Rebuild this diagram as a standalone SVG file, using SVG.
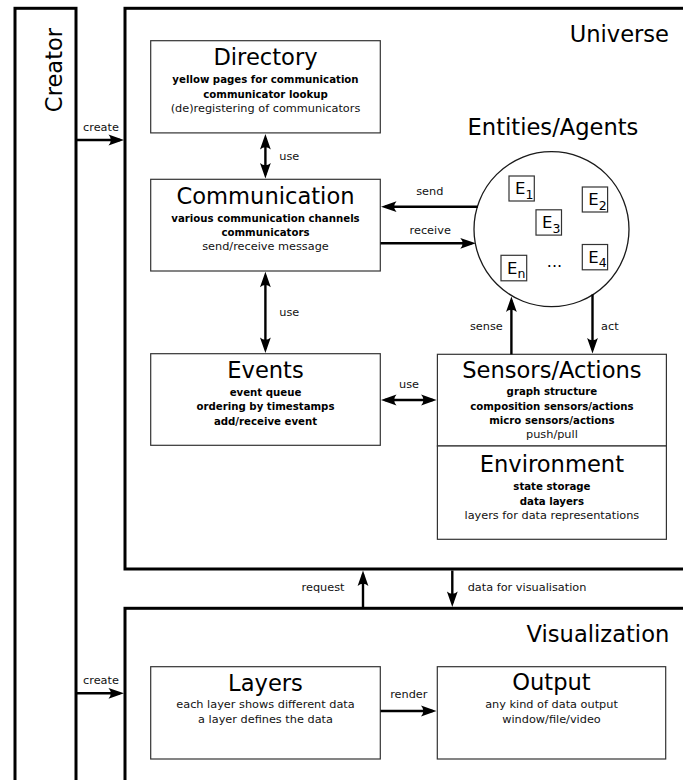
<svg xmlns="http://www.w3.org/2000/svg" width="683" height="780" viewBox="0 0 683 780">
  <defs>
    <style>
      text { font-family: "DejaVu Sans", "Liberation Sans", sans-serif; fill: #000; }
      .title { font-size: 22.6px; text-anchor: middle; }
      .big { font-size: 22.6px; }
      .b { font-size: 10.2px; font-weight: bold; text-anchor: middle; }
      .n { font-size: 11.3px; text-anchor: middle; fill: #111; }
      .lbl { font-size: 11.3px; fill: #111; }
      .outer { fill: #fff; stroke: #000; stroke-width: 3; }
      .box { fill: #fff; stroke: #333; stroke-width: 1.2; }
      .ent { fill: #fff; stroke: #333; stroke-width: 1.2; }
      .e { font-size: 16.5px; }
      .sub { font-size: 12.5px; }
      .conn line { stroke: #000; stroke-width: 2.4; fill: none; }
      .one { marker-end: url(#head); }
      .two { marker-start: url(#head); marker-end: url(#head); }
    </style>
    <marker id="head" markerUnits="userSpaceOnUse" orient="auto-start-reverse" markerWidth="20" markerHeight="20" refX="0" refY="0" overflow="visible">
      <path d="M4,0 L-11.5,-5.4 Q-6.8,0 -11.5,5.4 Z" fill="#000"/>
    </marker>
  </defs>

  <rect width="683" height="780" fill="#fff"/>

  <!-- Creator column -->
  <g id="creator">
    <rect class="outer" x="15" y="8.3" width="61" height="900"/>
    <text class="big" transform="translate(61.5,70) rotate(-90)" text-anchor="middle">Creator</text>
  </g>

  <!-- Universe frame -->
  <g id="universe">
    <rect class="outer" x="125" y="8.3" width="600" height="560.7"/>
    <text class="big" x="669" y="41.7" text-anchor="end">Universe</text>
  </g>

  <!-- Visualization frame -->
  <g id="visualization">
    <rect class="outer" x="125" y="608.3" width="600" height="300"/>
    <text class="big" x="669.3" y="641.7" text-anchor="end">Visualization</text>
  </g>

  <g id="directory">
    <rect class="box" x="150.7" y="40.7" width="229.6" height="92.2"/>
    <text class="title" x="265.5" y="65">Directory</text>
    <text class="b" x="265.5" y="83.3">yellow pages for communication</text>
    <text class="b" x="265.5" y="97.5">communicator lookup</text>
    <text class="n" x="265.5" y="111.8">(de)registering of communicators</text>
  </g>

  <g id="communication">
    <rect class="box" x="150.7" y="179.3" width="229.6" height="91.7"/>
    <text class="title" x="265.5" y="203.5">Communication</text>
    <text class="b" x="265.5" y="221.8">various communication channels</text>
    <text class="b" x="265.5" y="236">communicators</text>
    <text class="n" x="265.5" y="250.3">send/receive message</text>
  </g>

  <g id="events">
    <rect class="box" x="150.7" y="353.7" width="229.6" height="91.6"/>
    <text class="title" x="265.5" y="378.3">Events</text>
    <text class="b" x="265.5" y="396">event queue</text>
    <text class="b" x="265.5" y="410.3">ordering by timestamps</text>
    <text class="b" x="265.5" y="424.6">add/receive event</text>
  </g>

  <g id="sensors-actions">
    <rect class="box" x="437.4" y="354.3" width="229" height="91.7"/>
    <text class="title" x="551.9" y="377.6">Sensors/Actions</text>
    <text class="b" x="551.9" y="395.3">graph structure</text>
    <text class="b" x="551.9" y="409.6">composition sensors/actions</text>
    <text class="b" x="551.9" y="423.9">micro sensors/actions</text>
    <text class="n" x="551.9" y="438.2">push/pull</text>
  </g>

  <g id="environment">
    <rect class="box" x="437.4" y="446" width="229" height="93.3"/>
    <text class="title" x="551.9" y="472.3">Environment</text>
    <text class="b" x="551.9" y="490.3">state storage</text>
    <text class="b" x="551.9" y="504.6">data layers</text>
    <text class="n" x="551.9" y="519">layers for data representations</text>
  </g>

  <g id="entities">
    <text class="title" x="553" y="135">Entities/Agents</text>
    <circle cx="551.5" cy="229.2" r="77.5" fill="#fff" stroke="#1a1a1a" stroke-width="1.3"/>
    <g id="e1">
      <rect class="ent" x="509" y="176" width="25.3" height="25"/>
      <text x="515" y="194.3"><tspan class="e">E</tspan><tspan class="sub" dy="4.4">1</tspan></text>
    </g>
    <g id="e2">
      <rect class="ent" x="582.3" y="187" width="25.3" height="25"/>
      <text x="588.3" y="205.3"><tspan class="e">E</tspan><tspan class="sub" dy="4.4">2</tspan></text>
    </g>
    <g id="e3">
      <rect class="ent" x="536" y="209.8" width="25.5" height="25.3"/>
      <text x="542" y="228.1"><tspan class="e">E</tspan><tspan class="sub" dy="4.4">3</tspan></text>
    </g>
    <g id="e4">
      <rect class="ent" x="582.3" y="244.5" width="25.3" height="25.3"/>
      <text x="588.3" y="262.8"><tspan class="e">E</tspan><tspan class="sub" dy="4.4">4</tspan></text>
    </g>
    <g id="en">
      <rect class="ent" x="501" y="255.3" width="25.7" height="25.5"/>
      <text x="507" y="273.6"><tspan class="e">E</tspan><tspan class="sub" dy="4.4">n</tspan></text>
    </g>
    <text x="554.5" y="266.5" font-size="16" text-anchor="middle">...</text>
  </g>

  <g id="layers">
    <rect class="box" x="150.7" y="666.7" width="229.6" height="92.3"/>
    <text class="title" x="265.5" y="690.7">Layers</text>
    <text class="n" x="265.5" y="708.3">each layer shows different data</text>
    <text class="n" x="265.5" y="722.5">a layer defines the data</text>
  </g>

  <g id="output">
    <rect class="box" x="437.3" y="666.7" width="228.4" height="92.3"/>
    <text class="title" x="551.5" y="690">Output</text>
    <text class="n" x="551.5" y="708.3">any kind of data output</text>
    <text class="n" x="551.5" y="722.5">window/file/video</text>
  </g>

  <!-- Connectors and their labels -->
  <g id="connectors" class="conn">
    <line class="one" x1="76" y1="140" x2="120" y2="140"/>
    <line class="one" x1="76" y1="693.3" x2="120" y2="693.3"/>
    <line class="two" x1="265.4" y1="138" x2="265.4" y2="174.5"/>
    <line class="two" x1="265.4" y1="275.8" x2="265.4" y2="349"/>
    <line class="one" x1="477.8" y1="206.7" x2="385" y2="206.7"/>
    <line class="one" x1="380.5" y1="243.3" x2="471.8" y2="243.3"/>
    <line class="two" x1="385" y1="400" x2="432.6" y2="400"/>
    <line class="one" x1="511.4" y1="354.3" x2="511.4" y2="300.5"/>
    <line class="one" x1="592.5" y1="294.5" x2="592.5" y2="349.5"/>
    <line class="one" x1="363" y1="607" x2="363" y2="574.5"/>
    <line class="one" x1="452.3" y1="570.5" x2="452.3" y2="603"/>
    <line class="one" x1="380.5" y1="711" x2="432.5" y2="711"/>

    <text class="lbl" x="101" y="130.7" text-anchor="middle">create</text>
    <text class="lbl" x="101" y="684" text-anchor="middle">create</text>
    <text class="lbl" x="279.3" y="159.5">use</text>
    <text class="lbl" x="279.3" y="315.5">use</text>
    <text class="lbl" x="429.8" y="195" text-anchor="middle">send</text>
    <text class="lbl" x="430.2" y="234.3" text-anchor="middle">receive</text>
    <text class="lbl" x="409" y="388.3" text-anchor="middle">use</text>
    <text class="lbl" x="502.8" y="330" text-anchor="end">sense</text>
    <text class="lbl" x="601" y="330">act</text>
    <text class="lbl" x="344.5" y="590.7" text-anchor="end">request</text>
    <text class="lbl" x="467.7" y="590.7">data for visualisation</text>
    <text class="lbl" x="408.8" y="698.3" text-anchor="middle">render</text>
  </g>
</svg>
